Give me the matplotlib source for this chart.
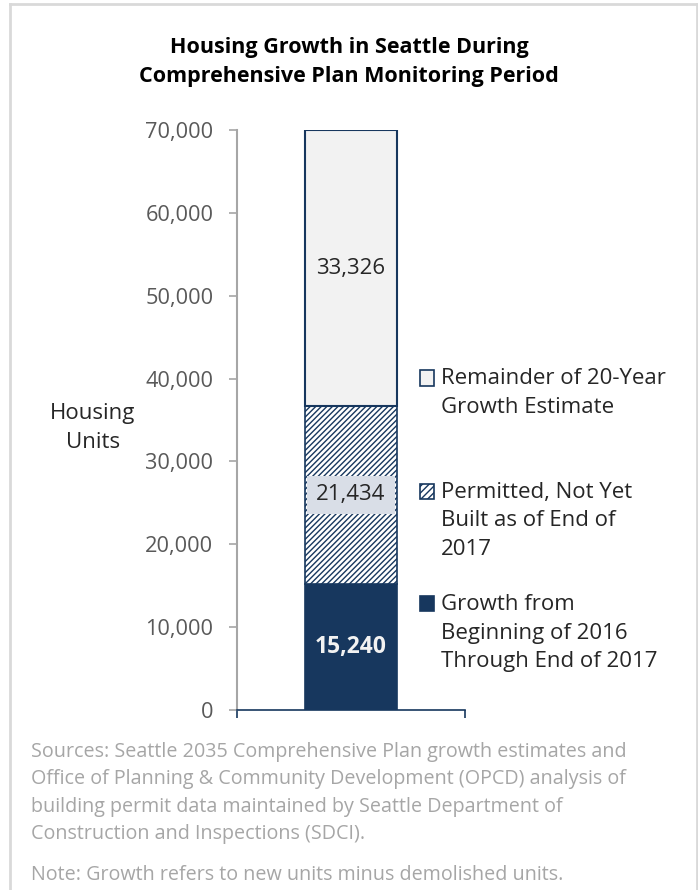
import matplotlib.pyplot as plt
from matplotlib.patches import Rectangle
from matplotlib.ticker import FuncFormatter

plt.rcParams['font.family'] = ['Open Sans', 'DejaVu Sans']
plt.rcParams['hatch.linewidth'] = 1.0

# ---------------- DATA ----------------
segments = ["Growth from\nBeginning of 2016\nThrough End of 2017",
            "Permitted, Not Yet\nBuilt as of End of\n2017",
            "Remainder of 20-Year\nGrowth Estimate"]
values = [15240, 21434, 33326]
yticks = [0, 10000, 20000, 30000, 40000, 50000, 60000, 70000]

navy = "#17375e"
light = "#f2f2f2"

fig = plt.figure(figsize=(6.98, 8.90), dpi=100)
ax = fig.add_axes([0.3395, 0.2022, 0.3267, 0.6517])

# ---------------- BARS ----------------
bottom = 0
bars = []
b = ax.bar(0.5, values[0], width=0.40, bottom=bottom, color=navy,
           edgecolor=navy, linewidth=1.2)
bars.append(b)
bottom += values[0]
b = ax.bar(0.5, values[1], width=0.40, bottom=bottom, color="white",
           edgecolor=navy, hatch="//////", linewidth=1.2)
bars.append(b)
bottom += values[1]
b = ax.bar(0.5, values[2], width=0.40, bottom=bottom, color=light,
           edgecolor=navy, linewidth=1.5)
bars.append(b)

# labels
ax.bar_label(bars[0], labels=[f"{values[0]:,}"], label_type="center",
             color="#f2f2f2", fontsize=16.5, fontweight="bold")
ax.bar_label(bars[1], labels=[f"{values[1]:,}"], label_type="center",
             color="#262626", fontsize=16,
             bbox=dict(boxstyle="square,pad=0.4", fc="#d9dee7", ec="none"))
ax.bar_label(bars[2], labels=[f"{values[2]:,}"], label_type="center",
             color="#262626", fontsize=16)

# ---------------- AXES ----------------
ax.set_xlim(0, 1)
ax.set_ylim(0, 70000)
ax.set_yticks(yticks)
ax.yaxis.set_major_formatter(FuncFormatter(lambda v, p: f"{int(v):,}"))
ax.tick_params(axis="y", direction="out", length=6, width=1.2,
               color="#a6a6a6", labelcolor="#595959", labelsize=15.7, pad=11)
ax.set_xticks([0, 1])
ax.set_xticklabels([])
ax.tick_params(axis="x", direction="out", length=6, width=1.2, color=navy)
for s in ["top", "right"]:
    ax.spines[s].set_visible(False)
ax.spines["left"].set_color("#a6a6a6")
ax.spines["left"].set_linewidth(1.5)
ax.spines["bottom"].set_color(navy)
ax.spines["bottom"].set_linewidth(1.2)
ax.spines["bottom"].set_zorder(5)

fig.text(93 / 698, 1 - 428 / 890, "Housing\nUnits", ha="center", va="center",
         fontsize=16, color="#262626", linespacing=1.45)

# ---------------- TITLE ----------------
fig.text(0.5, 1 - 62 / 890,
         "Housing Growth in Seattle During\nComprehensive Plan Monitoring Period",
         ha="center", va="center", fontsize=15.5, fontweight="bold",
         color="black", linespacing=1.5)

# ---------------- LEGEND ----------------
first_line = [603, 491, 378]
leg_face = [navy, "white", light]
leg_hatch = [None, "/////", None]
for i in range(3):
    nlines = segments[i].count("\n") + 1
    yc = 1 - (first_line[i] + (nlines - 1) * 15) / 890
    sq = Rectangle((420 / 698, 1 - (first_line[i] + 7.5) / 890), 14 / 698, 15 / 890,
                   transform=fig.transFigure, facecolor=leg_face[i],
                   edgecolor=navy, linewidth=1.2, hatch=leg_hatch[i])
    fig.add_artist(sq)
    fig.text(441 / 698, yc, segments[i], ha="left", va="center",
             fontsize=16, color="#262626", linespacing=1.45)

# ---------------- NOTES ----------------
fig.text(31 / 698, 1 - 793 / 890,
         "Sources: Seattle 2035 Comprehensive Plan growth estimates and\n"
         "Office of Planning & Community Development (OPCD) analysis of\n"
         "building permit data maintained by Seattle Department of\n"
         "Construction and Inspections (SDCI).",
         ha="left", va="center", fontsize=14.2, color="#a6a6a6",
         linespacing=1.5)
fig.text(31 / 698, 1 - 875 / 890,
         "Note: Growth refers to new units minus demolished units.",
         ha="left", va="center", fontsize=14.2, color="#a6a6a6")

# ---------------- BORDER ----------------
border = "#d9d9d9"
fig.add_artist(plt.Line2D([10 / 698, 10 / 698], [0, 1 - 4 / 890],
                          transform=fig.transFigure, color=border, lw=2))
fig.add_artist(plt.Line2D([10 / 698, 697 / 698], [1 - 4 / 890, 1 - 4 / 890],
                          transform=fig.transFigure, color=border, lw=2))
fig.add_artist(plt.Line2D([697 / 698, 697 / 698], [0, 1 - 4 / 890],
                          transform=fig.transFigure, color=border, lw=2))

fig.savefig("out.png", dpi=100)
